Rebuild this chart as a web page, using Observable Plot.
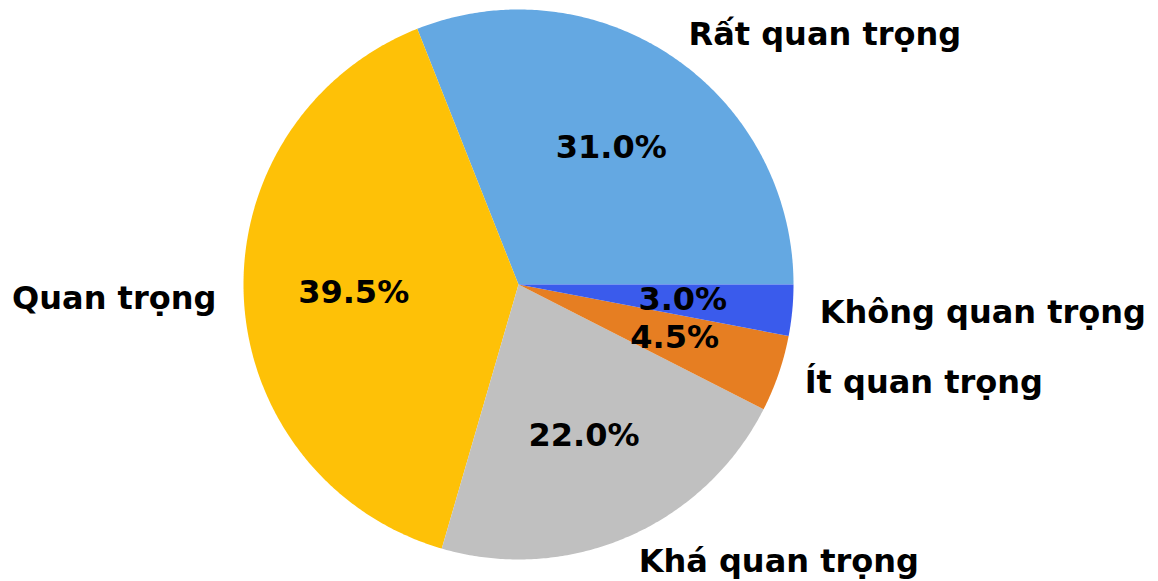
<!DOCTYPE html>
<html>
<head>
<meta charset="utf-8">
<script src="https://cdn.jsdelivr.net/npm/d3@7"></script>
<script src="https://cdn.jsdelivr.net/npm/@observablehq/plot@0.6"></script>
<style>
  html, body { margin: 0; padding: 0; background: #fff; }
  svg text { font-family: "DejaVu Sans", sans-serif; }
</style>
</head>
<body>
<div id="chart"></div>
<script>
const categories = ["Rất quan trọng", "Quan trọng", "Khá quan trọng", "Ít quan trọng", "Không quan trọng"];
const values = [31.0, 39.5, 22.0, 4.5, 3.0];
const colors = ["#64a8e2", "#fec107", "#c0c0c0", "#e67e22", "#3a5bec"];

// Build slice polygons (matplotlib default: start at 0°, counterclockwise)
const total = d3.sum(values);
const slices = [];
const polys = [];
let a0 = 0;
categories.forEach((c, i) => {
  const span = values[i] / total * 2 * Math.PI;
  const a1 = a0 + span;
  const mid = (a0 + a1) / 2;
  polys.push({cat: c, x: 0, y: 0});
  const n = Math.max(2, Math.ceil(span / (Math.PI / 360)));
  for (let k = 0; k <= n; k++) {
    const a = a0 + span * k / n;
    polys.push({cat: c, x: Math.cos(a), y: Math.sin(a)});
  }
  polys.push({cat: c, x: 0, y: 0});
  slices.push({
    cat: c,
    pct: values[i].toFixed(1) + "%",
    px: 0.6 * Math.cos(mid), py: 0.6 * Math.sin(mid),
    lx: 1.1 * Math.cos(mid), ly: 1.1 * Math.sin(mid)
  });
  a0 = a1;
});

const chart = Plot.plot({
  width: 1158,
  height: 581,
  margin: 0,
  x: {domain: [-1, 1], range: [243, 793], axis: null},
  y: {domain: [-1, 1], range: [559, 9], axis: null},
  color: {domain: categories, range: colors},
  marks: [
    Plot.line(polys, {x: "x", y: "y", z: "cat", fill: "cat", stroke: "none", curve: "linear"}),
    Plot.text(slices, {x: "px", y: "py", text: "pct", fontSize: 32, fontWeight: "bold", fill: "black", textAnchor: "middle", lineAnchor: "middle"}),
    Plot.text(slices.filter(d => d.lx >= 0), {x: "lx", y: "ly", text: "cat", fontSize: 32, fontWeight: "bold", fill: "black", textAnchor: "start", lineAnchor: "middle"}),
    Plot.text(slices.filter(d => d.lx < 0), {x: "lx", y: "ly", text: "cat", fontSize: 32, fontWeight: "bold", fill: "black", textAnchor: "end", lineAnchor: "middle"})
  ]
});
document.getElementById("chart").appendChild(chart);
</script>
</body>
</html>
